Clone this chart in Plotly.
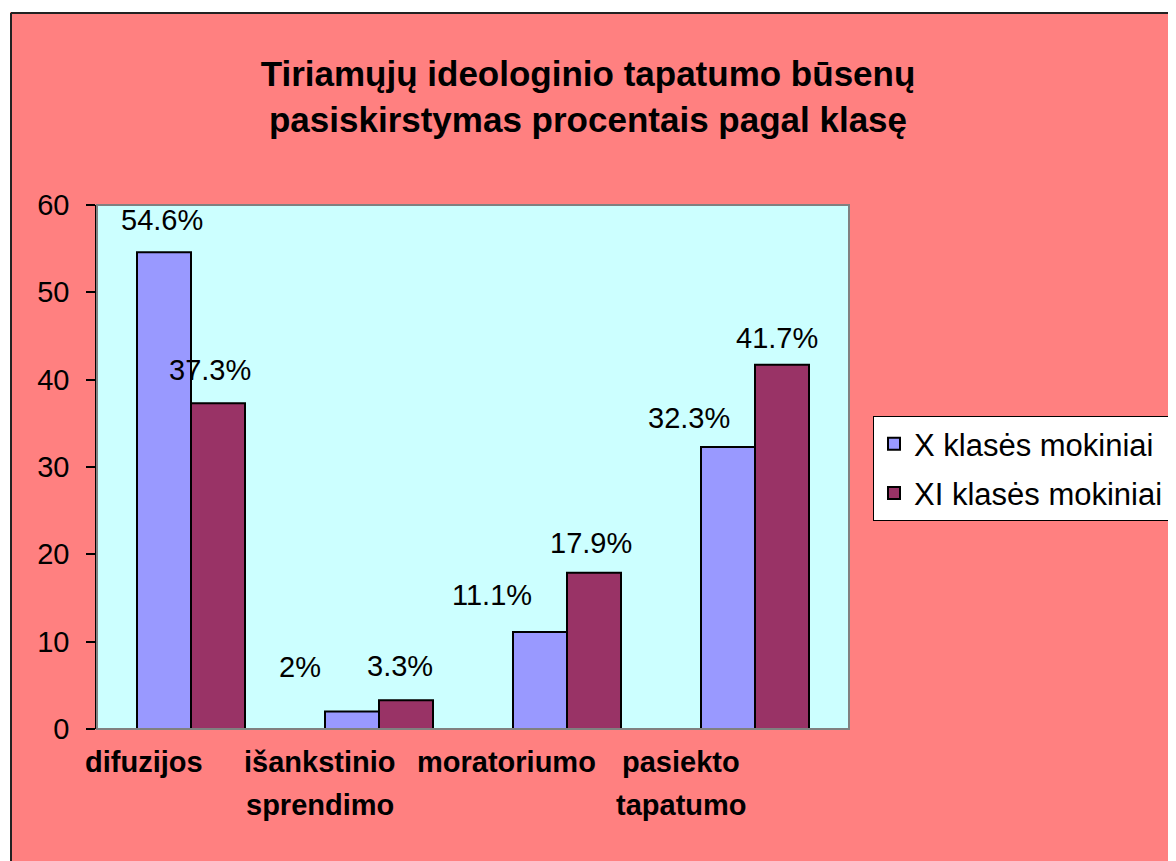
import plotly.graph_objects as go

# ---- data ----
categories = ["difuzijos", "išankstinio sprendimo", "moratoriumo", "pasiekto tapatumo"]
series_names = ["X klasės mokiniai", "XI klasės mokiniai"]
x_values = [54.6, 2, 11.1, 32.3]
xi_values = [37.3, 3.3, 17.9, 41.7]
title_text = "Tiriamųjų ideologinio tapatumo būsenų<br>pasiskirstymas procentais pagal klasę"
y_ticks = [0, 10, 20, 30, 40, 50, 60]

# ---- styles ----
FONT = "Liberation Sans, Arial, sans-serif"
SALMON = "#FF8080"
CYAN = "#CCFFFF"
COLORS = ["#9999FF", "#993366"]
OFF = 8  # page body margin
W, H = 1176 - OFF, 861 - OFF
L, R, T, B = 97 - OFF, 849 - OFF, 205 - OFF, 729 - OFF

# label pixel offsets (Excel-style placement of labels)
x_label_dx = [-29, -79, -75, -66]
x_label_dy = [32, 45, 37, 29]
xi_label_dx = [19, 21, 24, 22]
xi_label_dy = [33, 34, 30, 27]
cat_label_dx = [-47, -59, -61, -74]

fig = go.Figure()
for name, vals, col in zip(series_names, [x_values, xi_values], COLORS):
    fig.add_trace(go.Bar(
        x=categories, y=vals, name=name, legendgroup=name,
        marker=dict(color=col, line=dict(color="black", width=2)),
    ))

ann = []
for vals, dxs, dys in [(x_values, x_label_dx, x_label_dy), (xi_values, xi_label_dx, xi_label_dy)]:
    for c, v, dx, dy in zip(categories, vals, dxs, dys):
        ann.append(dict(x=c, y=v, xref="x", yref="y", text=f"{v}%", showarrow=False,
                        xshift=dx, yshift=dy, yanchor="middle", xanchor="center",
                        font=dict(family=FONT, size=29, color="black")))
for c, dx in zip(categories, cat_label_dx):
    for i, word in enumerate(c.split(" ")):
        ann.append(dict(x=c, y=0, xref="x", yref="paper", text=f"<b>{word}</b>", showarrow=False,
                        xshift=dx, yshift=-33 - 43 * i, yanchor="middle", xanchor="center",
                        font=dict(family=FONT, size=29, color="black")))

pw, ph = R - L, B - T
def px_to_paper_x(px):
    return (px - OFF - L) / pw
def px_to_paper_y(py):
    return (B - (py - OFF)) / ph

shapes = [
    # white margins outside the chart frame
    dict(type="rect", xref="paper", yref="paper", layer="below",
         x0=px_to_paper_x(0), x1=px_to_paper_x(W + 20), y0=px_to_paper_y(12), y1=px_to_paper_y(0),
         fillcolor="white", line=dict(width=0)),
    dict(type="rect", xref="paper", yref="paper", layer="below",
         x0=px_to_paper_x(0), x1=px_to_paper_x(10), y0=px_to_paper_y(H + 20), y1=px_to_paper_y(0),
         fillcolor="white", line=dict(width=0)),
    # chart frame lines
    dict(type="line", xref="paper", yref="paper", x0=px_to_paper_x(11), x1=px_to_paper_x(W + 20),
         y0=px_to_paper_y(13), y1=px_to_paper_y(13), line=dict(color="#222", width=2)),
    dict(type="line", xref="paper", yref="paper", x0=px_to_paper_x(11), x1=px_to_paper_x(11),
         y0=px_to_paper_y(13), y1=px_to_paper_y(H + 20), line=dict(color="#222", width=2)),
    # plot area border
    dict(type="rect", xref="paper", yref="paper", x0=0, x1=1, y0=0, y1=1,
         line=dict(color="#808080", width=2), layer="above"),
]

fig.update_layout(
    width=W, height=H,
    margin=dict(l=L, r=W - R, t=T, b=H - B, pad=0, autoexpand=False),
    paper_bgcolor=SALMON, plot_bgcolor=CYAN,
    barmode="group", bargap=0.4255, bargroupgap=0,
    title=dict(text=f"<b>{title_text}</b>", x=(588 - OFF) / W, xanchor="center", xref="container",
               y=1 - (86 - OFF) / H, yanchor="middle", yref="container",
               font=dict(family=FONT, size=35, color="black")),
    font=dict(family=FONT, color="black"),
    xaxis=dict(showticklabels=False, showgrid=False, zeroline=False, showline=False, ticks="",
               range=[-0.5, len(categories) - 0.5], automargin=False),
    yaxis=dict(range=[0, 60], tickvals=y_ticks, showgrid=False, zeroline=False,
               showline=True, linecolor="black", linewidth=1.5,
               ticks="outside", ticklen=9, tickcolor="black", tickwidth=1.5,
               ticklabelstandoff=11, automargin=False,
               tickfont=dict(family=FONT, size=29, color="black")),
    legend=dict(x=(873 - OFF) / W, y=1 - (416 - OFF) / H, xref="container", yref="container",
                xanchor="left", yanchor="top",
                bgcolor="white", bordercolor="black", borderwidth=1,
                font=dict(family=FONT, size=31, color="black"),
                traceorder="grouped", tracegroupgap=6),
    annotations=ann, shapes=shapes,
)

fig.write_html("out.html")
